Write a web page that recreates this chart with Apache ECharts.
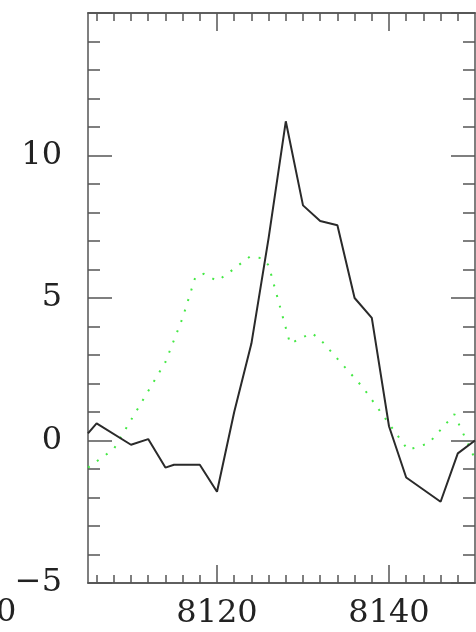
<!DOCTYPE html>
<html>
<head>
<meta charset="utf-8">
<script src="https://cdn.jsdelivr.net/npm/echarts@6/dist/echarts.min.js"></script>
<style>
  html, body { margin: 0; padding: 0; background: #fff; }
  #chart { width: 476px; height: 632px; }
</style>
</head>
<body>
<div id="chart"></div>
<script>
// Axis extents
const xMin = 8105, xMax = 8150;
const yMin = -5, yMax = 15;

// Tick positions and labels
const xMajorTicks = [8120, 8140];
const xMinorTicks = [8106, 8108, 8110, 8112, 8114, 8116, 8118, 8122, 8124, 8126, 8128,
                     8130, 8132, 8134, 8136, 8138, 8142, 8144, 8146, 8148];
const yLabelValues = [-5, 0, 5, 10];

// Solid (black) profile
const solidX = [8105, 8106, 8110, 8112, 8114, 8115, 8118, 8120, 8122, 8124, 8126, 8128,
                8130, 8132, 8134, 8136, 8138, 8140, 8142, 8146, 8148, 8150];
const solidY = [0.25, 0.6, -0.15, 0.05, -0.95, -0.85, -0.85, -1.8, 1.0, 3.4, 7.1, 11.2,
                8.25, 7.7, 7.55, 5.0, 4.3, 0.5, -1.3, -2.15, -0.45, 0.0];

// Dotted (green) profile
const dottedX = [8105, 8108, 8114, 8116, 8117.5, 8118.5, 8120, 8121, 8123.8, 8125.2, 8126,
                 8128.5, 8131, 8132, 8137, 8142.2, 8144.6, 8147.6, 8150];
const dottedY = [-0.95, -0.3, 2.75, 4.3, 5.75, 5.85, 5.6, 5.8, 6.45, 6.4, 6.15,
                 3.4, 3.77, 3.55, 1.85, -0.33, -0.1, 0.92, -0.65];

const pairs = (xs, ys) => xs.map((x, i) => [x, ys[i]]);

const FONT = 'DejaVu Serif';
const AXIS_COLOR = '#555';
const lineStyle = { color: AXIS_COLOR, width: 1.5 };

function xAxisDef(position, ticks, len, labels) {
  return {
    type: 'value', position: position, min: xMin, max: xMax,
    axisLine: { show: true, onZero: false, lineStyle: lineStyle },
    axisTick: { show: true, inside: true, length: len, customValues: ticks, lineStyle: lineStyle },
    axisLabel: labels ? {
      show: true, customValues: labels, margin: 15,
      fontFamily: FONT, fontSize: 32, color: '#222',
      formatter: v => String(v)
    } : { show: false },
    splitLine: { show: false }
  };
}

function yAxisDef(position, labels) {
  return {
    type: 'value', position: position, min: yMin, max: yMax, interval: 5,
    axisLine: { show: true, onZero: false, lineStyle: lineStyle },
    axisTick: { show: true, inside: true, length: 24, lineStyle: lineStyle },
    minorTick: { show: true, splitNumber: 5, length: 12, lineStyle: lineStyle },
    axisLabel: labels ? {
      show: true, customValues: labels, margin: 26,
      fontFamily: FONT, fontSize: 32, color: '#222',
      formatter: v => String(v).replace('-', '\u2212')
    } : { show: false },
    splitLine: { show: false }
  };
}

const chart = echarts.init(document.getElementById('chart'), null, { renderer: 'canvas' });
chart.setOption({
  animation: false,
  backgroundColor: '#fff',
  grid: { left: 88, right: 1, top: 13, bottom: 49, containLabel: false },
  xAxis: [
    xAxisDef('bottom', xMajorTicks, 18, xMajorTicks),
    xAxisDef('bottom', xMinorTicks, 8, null),
    xAxisDef('top', xMajorTicks, 18, null),
    xAxisDef('top', xMinorTicks, 8, null)
  ],
  yAxis: [
    yAxisDef('left', yLabelValues),
    yAxisDef('right', null)
  ],
  graphic: [{
    type: 'text', left: -4, top: 597,
    style: { text: '0', fontFamily: FONT, fontSize: 32, fill: '#222' }
  }],
  series: [
    {
      type: 'line', xAxisIndex: 0, yAxisIndex: 0,
      data: pairs(dottedX, dottedY),
      showSymbol: false, clip: true,
      lineStyle: { color: '#44e844', width: 2, type: [2, 9] }
    },
    {
      type: 'line', xAxisIndex: 0, yAxisIndex: 0,
      data: pairs(solidX, solidY),
      showSymbol: false, clip: true,
      lineStyle: { color: '#2a2a2a', width: 2 }
    }
  ]
});
</script>
</body>
</html>
